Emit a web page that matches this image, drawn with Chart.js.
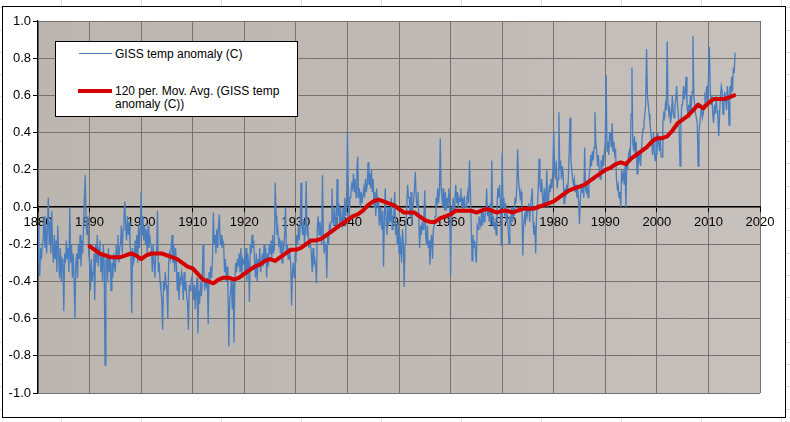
<!DOCTYPE html>
<html>
<head>
<meta charset="utf-8">
<script src="https://cdn.jsdelivr.net/npm/chart.js@4.4.1/dist/chart.umd.min.js"></script>
<style>
  html, body { margin: 0; padding: 0; }
  body {
    width: 790px; height: 422px; overflow: hidden; position: relative;
    background-color: #fff;
    background-image:
      repeating-linear-gradient(90deg, transparent 0, transparent 61px, #dcdcdc 61px, #dcdcdc 62px, transparent 62px, transparent 80px),
      repeating-linear-gradient(180deg, transparent 0, transparent 7.3px, #dcdcdc 7.3px, #dcdcdc 8.3px, transparent 8.3px, transparent 22.3px);
  }
  #frame {
    position: absolute; left: 2px; top: 6px; width: 782px; height: 410px;
    border: 1.5px solid #000; background: #fff;
  }
  #wrap { position: absolute; left: 0; top: 0; width: 790px; height: 422px; }
  #legend {
    position: absolute; left: 55px; top: 41px; width: 241px; height: 74px;
    background: #fff; border: 1px solid #000;
    font-family: "Liberation Sans", Arial, sans-serif; font-size: 12px; color: #000;
  }
  .swatch { position: absolute; }
  .label { position: absolute; left: 59px; line-height: 13px; white-space: nowrap; }
</style>
</head>
<body>
<div id="frame"></div>
<div id="wrap"><canvas id="grafico" width="790" height="422"></canvas></div>
<div id="legend"></div>
<script>
// Monthly-ish GISS anomaly, six readings per year, from 1880 onwards
var gissStart = 1880;
var gissPerYear = 6;
var giss = [
  -0.10,-0.30,-0.37,-0.22,-0.28,-0.20,
  -0.18,-0.05,-0.22,-0.10,-0.25,-0.12,
   0.05,-0.20,-0.08,-0.25,-0.02,-0.22,
  -0.30,-0.15,-0.28,-0.18,-0.35,-0.10,
  -0.25,-0.38,-0.22,-0.40,-0.28,-0.30,
  -0.56,-0.25,-0.30,-0.18,-0.28,-0.22,
  -0.35, 0.00,-0.30,-0.20,-0.38,-0.25,
  -0.40,-0.60,-0.30,-0.25,-0.38,-0.20,
  -0.28,-0.15,-0.32,-0.18,-0.25,-0.10,
   0.05, 0.17,-0.10,-0.15,-0.05,-0.25,
  -0.30,-0.45,-0.28,-0.40,-0.35,-0.25,
  -0.50,-0.20,-0.30,-0.15,-0.32,-0.22,
  -0.18,-0.35,-0.25,-0.40,-0.20,-0.30,
  -0.85,-0.30,-0.25,-0.40,-0.22,-0.35,
  -0.28,-0.45,-0.30,-0.38,-0.25,-0.32,
  -0.35,-0.20,-0.28,-0.15,-0.30,-0.22,
  -0.20,-0.10,-0.25,-0.12,-0.05, 0.03,
  -0.10,-0.18,-0.05,-0.15,-0.08,-0.20,
  -0.25,-0.57,-0.22,-0.30,-0.28,-0.18,
  -0.25,-0.15,-0.30,-0.10,-0.22,-0.12,
   0.08,-0.15,-0.05,-0.18,-0.10,-0.20,
  -0.12,-0.25,-0.10,-0.22,-0.15,-0.20,
  -0.22,-0.35,-0.20,-0.30,-0.38,-0.25,
  -0.25,-0.02,-0.35,-0.30,-0.40,-0.45,
  -0.50,-0.66,-0.40,-0.45,-0.35,-0.42,
  -0.45,-0.60,-0.30,-0.25,-0.28,-0.22,
  -0.15,-0.30,-0.20,-0.35,-0.22,-0.30,
  -0.45,-0.35,-0.50,-0.38,-0.42,-0.35,
  -0.38,-0.50,-0.35,-0.45,-0.40,-0.48,
  -0.52,-0.66,-0.42,-0.45,-0.40,-0.38,
  -0.40,-0.50,-0.42,-0.55,-0.45,-0.38,
  -0.68,-0.45,-0.52,-0.40,-0.48,-0.42,
  -0.20,-0.35,-0.45,-0.40,-0.42,-0.38,
  -0.63,-0.35,-0.40,-0.32,-0.38,-0.28,
  -0.03,-0.20,-0.15,-0.25,-0.12,-0.22,
  -0.10,-0.04,-0.20,-0.15,-0.22,-0.18,
  -0.20,-0.35,-0.28,-0.40,-0.32,-0.45,
  -0.75,-0.50,-0.45,-0.40,-0.55,-0.38,
  -0.73,-0.40,-0.30,-0.35,-0.28,-0.32,
  -0.25,-0.35,-0.22,-0.38,-0.28,-0.30,
  -0.28,-0.35,-0.22,-0.40,-0.25,-0.30,
  -0.51,-0.20,-0.25,-0.15,-0.22,-0.18,
  -0.30,-0.38,-0.25,-0.40,-0.28,-0.32,
  -0.22,-0.35,-0.30,-0.25,-0.32,-0.20,
  -0.30,-0.22,-0.38,-0.25,-0.32,-0.20,
  -0.25,-0.18,-0.28,-0.15,-0.25,-0.22,
   0.13,-0.05,-0.15,-0.12,-0.20,-0.18,
  -0.25,-0.18,-0.30,-0.20,-0.22,-0.15,
   0.00,-0.25,-0.20,-0.28,-0.22,-0.25,
  -0.30,-0.53,-0.35,-0.30,-0.38,-0.25,
  -0.30,-0.15,-0.20,-0.10,-0.18,-0.12,
   0.13,-0.10,-0.15,-0.08,-0.20,-0.12,
   0.14,-0.15,-0.10,-0.22,-0.18,-0.20,
  -0.25,-0.35,-0.22,-0.30,-0.28,-0.32,
  -0.41,-0.10,-0.05,-0.15,-0.08,-0.12,
  -0.20, 0.17,-0.15,-0.25,-0.20,-0.22,
  -0.38,-0.15,-0.20,-0.10,-0.12,-0.08,
   0.10,-0.05,-0.10, 0.00,-0.08,-0.12,
   0.15,-0.05, 0.02,-0.10, 0.00,-0.08,
  -0.10, 0.00,-0.08, 0.05,-0.05, 0.02,
   0.40, 0.10,-0.07, 0.05, 0.08, 0.12,
   0.10, 0.18, 0.08, 0.15, 0.05, 0.20,
   0.27, 0.05, 0.10, 0.00, 0.08, 0.02,
   0.02, 0.10, 0.05, 0.15, 0.08, 0.12,
   0.24, 0.12, 0.18, 0.10, 0.20, 0.08,
   0.15, 0.00, 0.08,-0.05, 0.10, 0.02,
   0.05,-0.10, 0.00,-0.08,-0.12,-0.02,
  -0.32,-0.05, 0.10,-0.08,-0.15, 0.00,
  -0.10, 0.00,-0.08, 0.05,-0.12,-0.05,
  -0.05, 0.08,-0.15,-0.10,-0.20,-0.08,
  -0.25,-0.15,-0.20,-0.30,-0.12,-0.18,
  -0.43,-0.20,-0.10, 0.00, 0.12, 0.05,
   0.05,-0.05, 0.08,-0.10, 0.00, 0.03,
   0.10, 0.19, 0.05, 0.00, 0.08,-0.05,
  -0.22,-0.10,-0.15,-0.08,-0.12,-0.05,
   0.09,-0.15,-0.20,-0.10,-0.22,-0.18,
  -0.31,-0.20,-0.15,-0.28,-0.12,-0.10,
  -0.05, 0.05, 0.00, 0.10, 0.02, 0.08,
   0.37, 0.10, 0.05, 0.00, 0.10,-0.02,
   0.08,-0.02, 0.05, 0.00, 0.10, 0.02,
  -0.37, 0.00,-0.05, 0.05,-0.02, 0.04,
   0.12, 0.02, 0.08, 0.00, 0.05, 0.03,
   0.10, 0.00, 0.05,-0.02, 0.06, 0.00,
   0.00, 0.05, 0.08, 0.02, 0.25, 0.10,
  -0.10,-0.29,-0.15,-0.22,-0.18,-0.25,
  -0.30,-0.10,-0.12,-0.05,-0.08,-0.10,
  -0.02,-0.10, 0.00,-0.08,-0.05,-0.03,
   0.10,-0.05, 0.00,-0.08, 0.02,-0.10,
   0.25,-0.10,-0.05,-0.12,-0.08,-0.15,
   0.00, 0.10, 0.05, 0.12, 0.02,-0.21,
   0.29, 0.00, 0.05,-0.05, 0.02,-0.08,
  -0.05,-0.12,-0.20,-0.05,-0.10, 0.00,
  -0.08, 0.00,-0.05, 0.05, 0.02, 0.10,
   0.31, 0.15, 0.10, 0.05, 0.08, 0.00,
  -0.26,-0.10,-0.05,-0.08, 0.00,-0.05,
  -0.05, 0.02,-0.08, 0.00, 0.05, 0.10,
  -0.08,-0.15,-0.10,-0.25,-0.05, 0.00,
   0.10, 0.26, 0.12, 0.08, 0.15, 0.05,
   0.00, 0.10, 0.02, 0.08, 0.20, 0.00,
   0.05, 0.12, 0.08, 0.15, 0.10, 0.20,
   0.41, 0.20, 0.15, 0.25, 0.10, 0.15,
   0.51, 0.20, 0.25, 0.15, 0.22, 0.18,
   0.02, 0.10, 0.05, 0.12, 0.08, 0.15,
   0.30, 0.48, 0.25, 0.20, 0.15, 0.12,
   0.15, 0.08, 0.12, 0.05, 0.10, 0.02,
  -0.09, 0.05, 0.10, 0.08, 0.12, 0.05,
   0.32, 0.10, 0.08, 0.12, 0.05, 0.15,
   0.20, 0.28, 0.22, 0.30, 0.25, 0.32,
   0.51, 0.35, 0.30, 0.22, 0.28, 0.20,
   0.15, 0.25, 0.20, 0.28, 0.22, 0.30,
   0.35, 0.71, 0.30, 0.35, 0.28, 0.40,
   0.40, 0.32, 0.45, 0.30, 0.35, 0.28,
   0.30, 0.15, 0.10, 0.12, 0.05, 0.08,
   0.00, 0.20, 0.15, 0.18, 0.12, 0.22,
   0.00, 0.25, 0.20, 0.28, 0.30, 0.25,
   0.50, 0.75, 0.35, 0.30, 0.38, 0.28,
   0.35, 0.18, 0.28, 0.25, 0.30, 0.22,
   0.30, 0.38, 0.42, 0.45, 0.50, 0.55,
   0.85, 0.60, 0.55, 0.50, 0.45, 0.40,
   0.35, 0.28, 0.40, 0.30, 0.25, 0.35,
   0.28, 0.40, 0.35, 0.30, 0.38, 0.27,
   0.27, 0.45, 0.50, 0.48, 0.55, 0.52,
   0.89, 0.55, 0.50, 0.52, 0.45, 0.50,
   0.60, 0.50, 0.48, 0.55, 0.58, 0.65,
   0.55, 0.50, 0.40, 0.22, 0.45, 0.55,
   0.55, 0.65, 0.58, 0.62, 0.70, 0.55,
   0.50, 0.55, 0.48, 0.60, 0.52, 0.62,
   0.92, 0.60, 0.55, 0.50, 0.48, 0.45,
   0.22, 0.40, 0.45, 0.50, 0.55, 0.48,
   0.50, 0.55, 0.60, 0.58, 0.65, 0.55,
   0.70, 0.86, 0.65, 0.55, 0.60, 0.50,
   0.45, 0.55, 0.50, 0.60, 0.52, 0.48,
   0.38, 0.50, 0.60, 0.65, 0.62, 0.50,
   0.55, 0.62, 0.58, 0.52, 0.65, 0.60,
   0.44, 0.65, 0.60, 0.70, 0.62, 0.75,
   0.72, 0.83
];

// 120 per. moving average, one reading per year from 1890
var movAvgStart = 1890;
var movAvg = [
  -0.21,-0.23,-0.25,-0.26,-0.27,-0.27,-0.27,-0.26,-0.25,-0.26,
  -0.28,-0.26,-0.25,-0.25,-0.25,-0.26,-0.27,-0.28,-0.30,-0.32,
  -0.33,-0.36,-0.39,-0.40,-0.41,-0.39,-0.38,-0.38,-0.39,-0.38,
  -0.36,-0.34,-0.32,-0.31,-0.29,-0.28,-0.29,-0.27,-0.25,-0.23,
  -0.23,-0.22,-0.20,-0.18,-0.18,-0.17,-0.15,-0.13,-0.11,-0.09,
  -0.07,-0.05,-0.04,-0.02, 0.01, 0.03, 0.04, 0.03, 0.02, 0.01,
  -0.01,-0.03,-0.03,-0.03,-0.05,-0.07,-0.08,-0.08,-0.06,-0.05,
  -0.04,-0.02,-0.02,-0.02,-0.02,-0.03,-0.02,-0.01,-0.02,-0.03,
  -0.02,-0.02,-0.03,-0.02,-0.01,-0.01,-0.01, 0.00, 0.01, 0.02,
   0.03, 0.05, 0.07, 0.09, 0.10, 0.11, 0.12, 0.14, 0.16, 0.18,
   0.20, 0.21, 0.23, 0.24, 0.23, 0.26, 0.28, 0.30, 0.32, 0.35,
   0.37, 0.37, 0.38, 0.41, 0.45, 0.47, 0.49, 0.52, 0.55, 0.53,
   0.56, 0.58, 0.58, 0.58, 0.59, 0.60
];

var serieNames = ['GISS temp anomaly (C)', '120 per. Mov. Avg. (GISS temp anomaly (C))'];
var xTicks = [1880, 1890, 1900, 1910, 1920, 1930, 1940, 1950, 1960, 1970, 1980, 1990, 2000, 2010, 2020];
var yTicks = [-1.0, -0.8, -0.6, -0.4, -0.2, 0.0, 0.2, 0.4, 0.6, 0.8, 1.0];

var gissPoints = giss.map(function (v, i) { return { x: gissStart + i / gissPerYear, y: v }; });
var movAvgPoints = movAvg.map(function (v, i) { return { x: movAvgStart + i, y: v }; });

var colorAzul = '#4a7dbd';
var colorRojo = '#d40000';

// fondo gris del área de trazado
var fondoPlot = {
  id: 'fondoPlot',
  beforeDraw: function (chart) {
    var a = chart.chartArea, ctx = chart.ctx;
    var g = ctx.createLinearGradient(a.left, 0, a.right, 0);
    g.addColorStop(0, '#bcb6b1');
    g.addColorStop(0.6, '#bfbab5');
    g.addColorStop(1, '#c6c1bd');
    ctx.save();
    ctx.fillStyle = g;
    ctx.fillRect(a.left, a.top, a.right - a.left, a.bottom - a.top);
    ctx.restore();
  }
};

Chart.defaults.font.family = '"Liberation Sans", Arial, sans-serif';
Chart.defaults.font.size = 13;
Chart.defaults.color = '#000';

var ctx = document.getElementById('grafico').getContext('2d');
var grafico = new Chart(ctx, {
  type: 'line',
  data: {
    datasets: [{
      label: serieNames[0],
      data: gissPoints,
      borderColor: colorAzul,
      borderWidth: 1.3,
      pointRadius: 0,
      tension: 0,
      order: 2
    }, {
      label: serieNames[1],
      data: movAvgPoints,
      borderColor: colorRojo,
      borderWidth: 4,
      pointRadius: 0,
      tension: 0,
      borderCapStyle: 'round',
      borderJoinStyle: 'round',
      order: 1
    }]
  },
  options: {
    responsive: false,
    animation: false,
    layout: { padding: { left: 8, right: 30, top: 21, bottom: 29 } },
    plugins: { legend: { display: false }, tooltip: { enabled: false } },
    scales: {
      x: {
        type: 'linear',
        position: { y: 0 },
        min: xTicks[0],
        max: xTicks[xTicks.length - 1],
        afterBuildTicks: function (s) { s.ticks = xTicks.map(function (v) { return { value: v }; }); },
        ticks: { padding: 3, maxRotation: 0, autoSkip: false, callback: function (v) { return String(v); } },
        grid: { color: '#76726f', lineWidth: 1, tickLength: 5, tickColor: '#000' },
        border: { color: '#000', width: 1.2 }
      },
      y: {
        min: yTicks[0],
        max: yTicks[yTicks.length - 1],
        afterBuildTicks: function (s) { s.ticks = yTicks.map(function (v) { return { value: v }; }); },
        afterFit: function (s) { s.width = 30; },
        ticks: { padding: 2, callback: function (v) { return Number(v).toFixed(1); } },
        grid: { color: '#76726f', lineWidth: 1, tickLength: 5, tickColor: '#000' },
        border: { color: '#000', width: 1.2 }
      }
    }
  },
  plugins: [fondoPlot]
});

// leyenda en recuadro blanco
var leyenda = document.getElementById('legend');
leyenda.innerHTML =
  '<div class="swatch" style="left:23px;top:11px;width:33px;height:1px;background:' + colorAzul + '"></div>' +
  '<div class="label" style="top:6px">' + serieNames[0] + '</div>' +
  '<div class="swatch" style="left:22px;top:47px;width:34px;height:4px;background:' + colorRojo + '"></div>' +
  '<div class="label" style="top:43px">120 per. Mov. Avg. (GISS temp<br>anomaly (C))</div>';
</script>
</body>
</html>
